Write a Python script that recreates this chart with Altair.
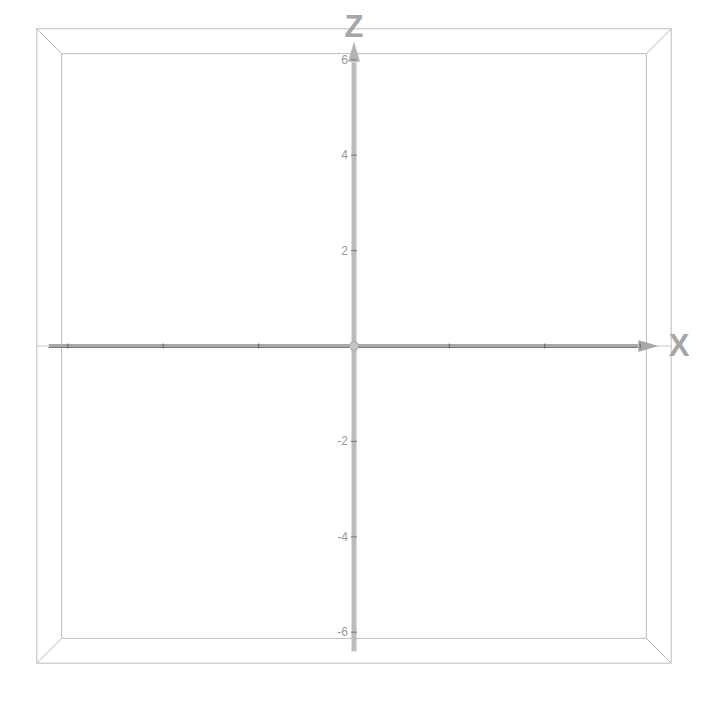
import altair as alt
import pandas as pd

# --- values ---
tick_values = [-6, -4, -2, 2, 4, 6]
tick_labels = ["-6", "-4", "-2", "2", "4", "6"]
front_half = 6.65      # front face half-extent of the 3D box
back_half = 6.13       # back face half-extent (perspective)
axis_start = -6.4      # where the thick axes start
arrow_base = 5.95      # where the arrowheads start
arrow_mid = 6.17       # arrowhead centre
axis_names = ["X", "Z"]

PXU = 47.7
W, H = 710, 690
xdom = [-346 / PXU, (W - 346) / PXU]
ydom = [-(H - 338) / PXU, 338 / PXU]

xs = alt.Scale(domain=xdom, nice=False, zero=False)
ys = alt.Scale(domain=ydom, nice=False, zero=False)
X = lambda f: alt.X(f, type="quantitative", scale=xs, axis=None)
Y = lambda f: alt.Y(f, type="quantitative", scale=ys, axis=None)
X2 = lambda f: alt.X2(f)
Y2 = lambda f: alt.Y2(f)

# box segments
f, b = front_half, back_half
segs = []
for (x1, y1, x2, y2) in [(-f, -f, f, -f), (f, -f, f, f), (f, f, -f, f), (-f, f, -f, -f),
                         (-b, -b, b, -b), (b, -b, b, b), (b, b, -b, b), (-b, b, -b, -b),
                         (-f, -f, -b, -b), (f, -f, b, -b), (f, f, b, b), (-f, f, -b, b)]:
    segs.append(dict(x=x1, y=y1, x2=x2, y2=y2))
box = alt.Chart(pd.DataFrame(segs)).mark_rule(color="#bdbdbd", strokeWidth=1).encode(
    x=X("x"), y=Y("y"), x2=X2("x2"), y2=Y2("y2"))

# thin x line across the front face
thin = alt.Chart(pd.DataFrame([dict(x=-f, x2=f, y=0)])).mark_rule(
    color="#c8c8c8", strokeWidth=1).encode(x=X("x"), x2=X2("x2"), y=Y("y"))

# X axis thick
xaxis = alt.Chart(pd.DataFrame([dict(x=axis_start, x2=arrow_base, y=0)])).mark_rule(
    color="#a8a8a8", strokeWidth=4).encode(x=X("x"), x2=X2("x2"), y=Y("y"))
xaxis_dark = alt.Chart(pd.DataFrame([dict(x=axis_start, x2=arrow_base, y=0)])).mark_rule(
    color="#7a7a7a", strokeWidth=1, yOffset=1.5).encode(x=X("x"), x2=X2("x2"), y=Y("y"))

# Z axis thick
zaxis = alt.Chart(pd.DataFrame([dict(y=axis_start, y2=arrow_base, x=0)])).mark_rule(
    color="#bcbcbc", strokeWidth=5).encode(y=Y("y"), y2=Y2("y2"), x=X("x"))

# arrowheads
xhead = alt.Chart(pd.DataFrame([dict(x=arrow_mid, y=0)])).mark_point(
    shape="M1,0L-1,-0.6L-1,0.6Z", size=400, filled=True, color="#a8a8a8", opacity=1).encode(
    x=X("x"), y=Y("y"))
zhead = alt.Chart(pd.DataFrame([dict(x=0, y=arrow_mid)])).mark_point(
    shape="M0,-1L0.6,1L-0.6,1Z", size=400, filled=True, color="#b4b4b4", opacity=1).encode(
    x=X("x"), y=Y("y"))

# ticks
tdf = pd.DataFrame(dict(v=tick_values, label=tick_labels, zero=[0] * len(tick_values)))
ztick = alt.Chart(tdf).mark_tick(orient="horizontal", size=6, thickness=1.2, color="#6a6a6a").encode(
    x=X("zero"), y=Y("v"))
xtick = alt.Chart(tdf).mark_tick(orient="vertical", size=5, thickness=1.2, color="#555555").encode(
    x=X("v"), y=Y("zero"))
zlabels = alt.Chart(tdf).mark_text(align="right", baseline="middle", dx=-6, fontSize=12,
                                   color="#999999", font="Liberation Sans").encode(
    x=X("zero"), y=Y("v"), text="label:N")

# origin
origin = alt.Chart(pd.DataFrame([dict(x=0, y=0)])).mark_point(
    shape="circle", size=80, filled=True, color="#c4c4c4", stroke="#a8a8a8", strokeWidth=1,
    opacity=1).encode(x=X("x"), y=Y("y"))

# axis names
ndf = pd.DataFrame(dict(name=axis_names, x=[679 - 354, 0], y=[0, 346 - 27]))
ndf["x"] = ndf["x"] / PXU
ndf["y"] = ndf["y"] / PXU
names = alt.Chart(ndf).mark_text(fontSize=31, fontWeight="bold", color="#a6a6a6",
                                 align="center", baseline="middle", dy=1,
                                 font="Liberation Sans").encode(
    x=X("x"), y=Y("y"), text="name:N")

chart = alt.layer(box, thin, xaxis, xaxis_dark, zaxis, xhead, zhead, ztick, xtick, zlabels,
                  origin, names).properties(
    width=W, height=H, padding=0,
    autosize=alt.AutoSizeParams(type="none")
).configure_view(stroke=None)

chart.save("out.html", embed_options={"renderer": "svg", "actions": False})
